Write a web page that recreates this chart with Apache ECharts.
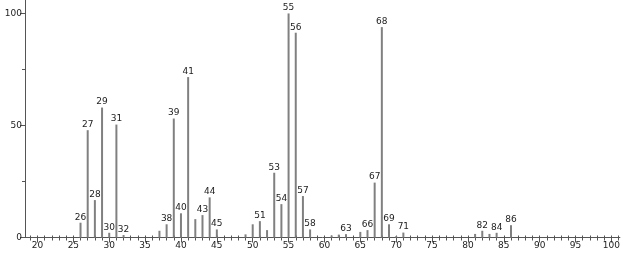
<!DOCTYPE html>
<html><head><meta charset="utf-8">
<script src="https://cdn.jsdelivr.net/npm/echarts@6/dist/echarts.min.js"></script>
<style>html,body{margin:0;padding:0;background:#fff}#c{width:623px;height:254px}</style>
</head><body><div id="c"></div>
<script>
const mz =        [26, 27, 28, 29, 30, 31, 32, 37, 38, 39, 40, 41, 42, 43, 44, 45, 49, 50, 51, 52, 53, 54, 55, 56, 57, 58, 61, 62, 63, 65, 66, 67, 68, 69, 70, 71, 81, 82, 83, 84, 86];
const intensity = [6.6, 47.9, 16.7, 58, 2.1, 50.4, 1.1, 3, 5.9, 53.1, 10.8, 71.6, 8.2, 10, 17.9, 3.6, 1.4, 5.9, 7.3, 3.3, 28.9, 14.9, 100, 91.4, 18.5, 3.6, 0.9, 1.3, 1.5, 2.5, 3.3, 24.5, 93.9, 5.9, 0.6, 2.2, 1.6, 3, 1.6, 2.1, 5.5];
const labeledPeaks = [26,27,28,29,30,31,32,38,39,40,41,43,44,45,51,53,54,55,56,57,58,63,66,67,68,69,71,82,84,86];
const xTickLabels = [20,25,30,35,40,45,50,55,60,65,70,75,80,85,90,95,100];
const yTickLabels = [0,50,100];
const yMinorTicks = [0,25,50,75,100];

const xMin = 18.26, xMax = 101.18;
const minorX = [];
for (let v = 19; v <= 101; v++) minorX.push(v);

const chart = echarts.init(document.getElementById('c'));
const font = 'DejaVu Sans';
chart.setOption({
  animation: false,
  grid: {left: 25, right: 2, top: 0, bottom: 16.5},
  xAxis: [
    {type: 'value', min: xMin, max: xMax, splitLine: {show: false},
     axisLine: {show: true, onZero: false, lineStyle: {color: '#555', width: 1}},
     axisTick: {show: true, customValues: minorX, length: 3, lineStyle: {color: '#555'}},
     axisLabel: {customValues: xTickLabels, color: '#222', fontSize: 9, fontFamily: font, margin: 4}},
    {type: 'value', min: xMin, max: xMax, position: 'bottom', splitLine: {show: false},
     axisLine: {show: false},
     axisTick: {show: true, customValues: xTickLabels, length: 5, lineStyle: {color: '#555'}},
     axisLabel: {show: false}},
    {type: 'value', min: xMin, max: xMax, position: 'bottom', splitLine: {show: false},
     axisLine: {show: false},
     axisTick: {show: true, inside: true, customValues: minorX, length: 2, lineStyle: {color: '#555'}},
     axisLabel: {show: false}}
  ],
  yAxis: [
    {type: 'value', min: 0, max: 106, splitLine: {show: false},
     axisLine: {show: true, lineStyle: {color: '#555', width: 1}},
     axisTick: {show: true, customValues: yTickLabels, length: 5, lineStyle: {color: '#555'}},
     axisLabel: {customValues: yTickLabels, color: '#222', fontSize: 9, fontFamily: font, margin: 3}},
    {type: 'value', min: 0, max: 106, position: 'left', splitLine: {show: false},
     axisLine: {show: false},
     axisTick: {show: true, customValues: yMinorTicks, length: 3, lineStyle: {color: '#555'}},
     axisLabel: {show: false}}
  ],
  series: [{
    type: 'bar', xAxisIndex: 0, yAxisIndex: 0, barWidth: 2,
    itemStyle: {color: '#808080'},
    data: mz.map((m, i) => [m, intensity[i]]),
    label: {show: true, position: 'top', distance: 1, fontSize: 9, fontFamily: font, color: '#222',
      formatter: p => labeledPeaks.includes(p.value[0]) ? String(p.value[0]) : ''}
  }]
});
</script></body></html>
